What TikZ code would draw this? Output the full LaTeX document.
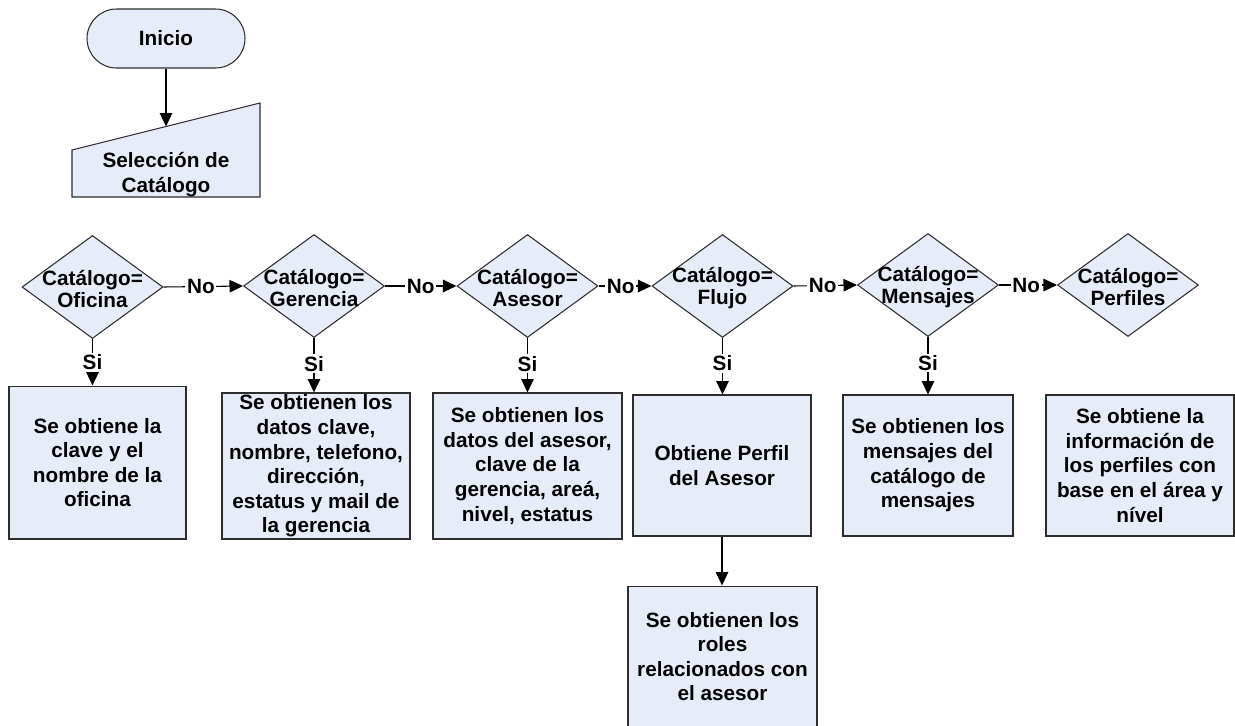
\documentclass[tikz,border=0pt]{standalone}
\usepackage{fontspec}
\setmainfont{Liberation Sans}
\usetikzlibrary{arrows.meta,shapes.geometric}

\definecolor{boxfill}{RGB}{231,237,248}
\definecolor{boxline}{RGB}{45,45,45}

\begin{document}
\begin{tikzpicture}[
    x=0.02cm, y=-0.02cm,
    >={Triangle[length=0.27cm,width=0.25cm]},
    every node/.style={font=\fontsize{11.8}{14}\selectfont\bfseries},
    box/.style={draw=boxline, fill=boxfill, line width=0.6pt, align=center, inner sep=0pt},
    startbox/.style={box, rounded corners=0.59cm, minimum width=3.16cm, minimum height=1.18cm},
    decision/.style={box, diamond, minimum width=2.82cm, minimum height=2.06cm},
    dtext/.style={align=center, font=\fontsize{11.8}{12.6}\selectfont\bfseries},
    stepbox/.style={box},
    arr/.style={->, line width=0.6pt, black},
    lbl/.style={fill=white, inner sep=1pt},
]

\useasboundingbox (0,0) rectangle (1235,725);

% ---- Top: start and catalogue selection ----
\node[startbox] (inicio) at (166,38.5) {Inicio};

\draw[box] (72,197) -- (72,150) -- (260,103) -- (260,197) -- cycle;
\node[align=center, font=\fontsize{11.8}{14.2}\selectfont\bfseries] (seleccion) at (166,174.5) {Selección de\\Catálogo};
\coordinate (seltop) at (166,126.5);

\draw[arr] (inicio) -- (seltop);

% ---- Middle: catalogue decisions ----
\node[decision] (d1) at (92.5,287) {};
\node[decision] (d2) at (314,286) {};
\node[decision] (d3) at (527.5,286) {};
\node[decision] (d4) at (722.5,286) {};
\node[decision] (d5) at (928,285) {};
\node[decision] (d6) at (1128,285) {};

\node[dtext] (t1) at ([yshift=-0.04cm]d1) {Catálogo=\\Oficina};
\node[dtext] (t2) at ([yshift=-0.04cm]d2) {Catálogo=\\Gerencia};
\node[dtext] (t3) at ([yshift=-0.04cm]d3) {Catálogo=\\Asesor};
\node[dtext] (t4) at ([yshift=-0.04cm]d4) {Catálogo=\\Flujo};
\node[dtext] (t5) at ([yshift=-0.04cm]d5) {Catálogo=\\Mensajes};
\node[dtext] (t6) at ([yshift=-0.04cm]d6) {Catálogo=\\Perfiles};

\draw[arr] (d1.east) -- node[lbl, pos=0.47] {No} (d2.west);
\draw[arr] (d2.east) -- node[lbl, pos=0.5] {No} (d3.west);
\draw[arr] (d3.east) -- node[lbl, pos=0.42] {No} (d4.west);
\draw[arr] (d4.east) -- node[lbl, pos=0.46] {No} (d5.west);
\draw[arr] (d5.east) -- node[lbl, pos=0.47] {No} (d6.west);

% ---- Bottom: results ----
\node[stepbox, minimum width=3.54cm, minimum height=3.06cm] (b1) at (97.5,462.5) {Se obtiene la\\clave y el\\nombre de la\\oficina};
\node[stepbox, minimum width=3.76cm, minimum height=2.92cm] (b2) at (316,466) {Se obtienen los\\datos clave,\\nombre, telefono,\\dirección,\\estatus y mail de\\la gerencia};
\node[stepbox, minimum width=3.78cm, minimum height=2.92cm] (b3) at (527.5,466) {Se obtienen los\\datos del asesor,\\clave de la\\gerencia, areá,\\nivel, estatus};
\node[stepbox, minimum width=3.56cm, minimum height=2.82cm] (b4) at (722,465.5) {Obtiene Perfil\\del Asesor};
\node[stepbox, minimum width=3.40cm, minimum height=2.82cm] (b5) at (928,465.5) {Se obtienen los\\mensajes del\\catálogo de\\mensajes};
\node[stepbox, minimum width=3.76cm, minimum height=2.82cm] (b6) at (1140,465.5) {Se obtiene la\\información de\\los perfiles con\\base en el área y\\nível};
\node[stepbox, minimum width=3.78cm, minimum height=2.82cm] (b7) at (722.5,656.5) {Se obtienen los\\roles\\relacionados con\\el asesor};

\draw[arr] (d1.south) -- node[lbl, pos=0.5] {Si} (d1.south |- b1.north);
\draw[arr] (d2.south) -- node[lbl, pos=0.47] {Si} (d2.south |- b2.north);
\draw[arr] (d3.south) -- node[lbl, pos=0.47] {Si} (d3.south |- b3.north);
\draw[arr] (d4.south) -- node[lbl, pos=0.45] {Si} (d4.south |- b4.north);
\draw[arr] (d5.south) -- node[lbl, pos=0.45] {Si} (d5.south |- b5.north);

\draw[arr] (b4.south) -- (b4.south |- b7.north);

\end{tikzpicture}
\end{document}
